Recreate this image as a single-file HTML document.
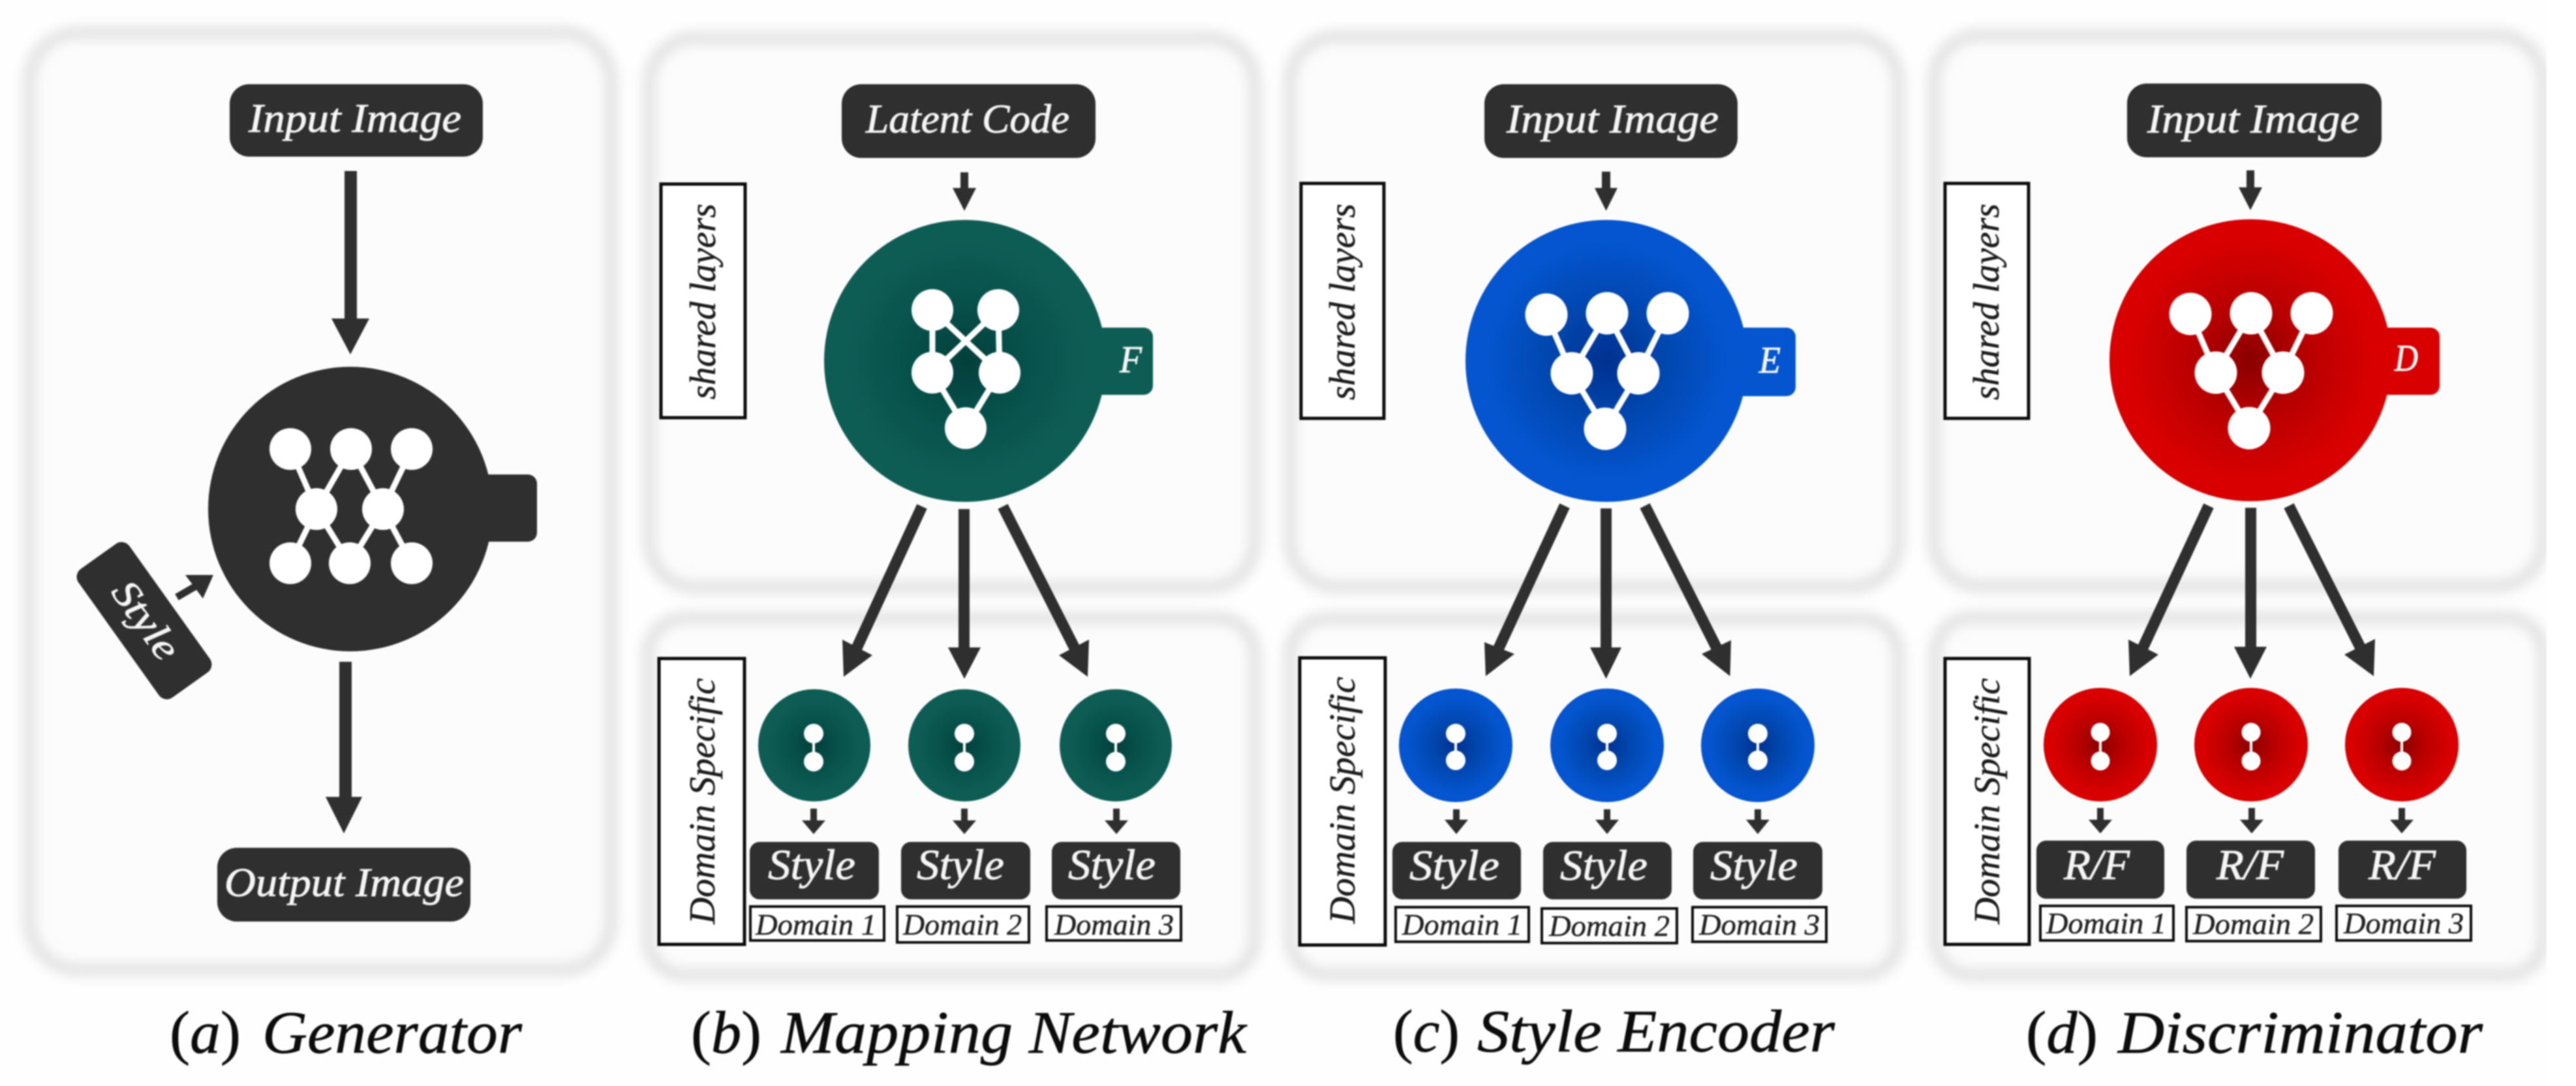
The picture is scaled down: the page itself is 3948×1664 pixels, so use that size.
<!DOCTYPE html>
<html><head><meta charset="utf-8"><style>
html,body{margin:0;padding:0;background:#fefefe;width:3948px;height:1664px;overflow:hidden}
svg{display:block;filter:blur(1.1px)}
text{font-family:"Liberation Serif",serif;font-style:italic}
.w{fill:#f5f5f5;stroke:#f5f5f5;stroke-width:.9}
.b{font-size:62px}.s{font-size:66px}.d{font-size:46px;fill:#222;stroke:#222;stroke-width:.5}.l{font-size:56px;fill:#1c1c1c;stroke:#1c1c1c;stroke-width:.5}.c{font-size:92px;fill:#0c0c0c;stroke:#0c0c0c;stroke-width:.7}
.n{font-style:normal}
.p{fill:#fcfcfc;stroke:#d4d4d4;stroke-width:13;filter:url(#pb)}
.k{fill:#2e2f2e}
.bx{fill:#fff;stroke:#0c0c0c}
.ln{stroke:#fff;stroke-width:9;fill:none}
.ar{stroke:#2e2f2e;fill:none}
</style></head><body>
<svg width="3948" height="1664" viewBox="0 0 3948 1664" xmlns="http://www.w3.org/2000/svg">
<defs>
<filter id="pb" x="-10%" y="-10%" width="120%" height="120%"><feGaussianBlur stdDeviation="10"/></filter>
<radialGradient id="gg"><stop offset="0" stop-color="#033f3b"/><stop offset=".4" stop-color="#07504a"/><stop offset=".85" stop-color="#0e5d55"/></radialGradient>
<radialGradient id="gb"><stop offset="0" stop-color="#00318f"/><stop offset=".4" stop-color="#0146ae"/><stop offset=".85" stop-color="#0455cf"/></radialGradient>
<radialGradient id="gr"><stop offset="0" stop-color="#8a0000"/><stop offset=".4" stop-color="#b80000"/><stop offset=".85" stop-color="#d80000"/></radialGradient>
</defs>
<rect width="3948" height="1664" fill="#fefefe"/>

<!-- panels -->
<rect class="p" x="45" y="50" width="892" height="1436" rx="75"/>
<rect class="p" x="995" y="58" width="928" height="842" rx="70"/>
<rect class="p" x="993" y="947" width="930" height="547" rx="55"/>
<rect class="p" x="1977" y="56" width="933" height="843" rx="70"/>
<rect class="p" x="1977" y="948" width="933" height="545" rx="55"/>
<rect class="p" x="2964" y="54" width="934" height="844" rx="70"/>
<rect class="p" x="2966" y="946" width="932" height="548" rx="55"/>
<rect x="3903" y="0" width="45" height="1664" fill="#fff"/>

<!-- (a) Generator -->
<rect class="k" x="352" y="129" width="388" height="111" rx="30"/>
<text class="b w" x="381" y="202" textLength="326" lengthAdjust="spacingAndGlyphs">Input Image</text>
<rect class="k" x="528" y="262" width="19" height="228"/>
<polygon class="k" points="508,488 566,488 537,543"/>
<rect class="k" x="700" y="727" width="123" height="103" rx="14"/>
<circle class="k" cx="537" cy="780" r="218"/>
<g class="ln" stroke-width="10">
<path d="M445,688L485,780L445,863M538,688L485,780L536,863M538,688L587,780L536,863M631,688L587,780L631,863"/>
</g>
<g fill="#fff">
<circle cx="445" cy="688" r="32"/><circle cx="538" cy="688" r="32"/><circle cx="631" cy="688" r="32"/>
<circle cx="485" cy="780" r="32"/><circle cx="587" cy="780" r="32"/>
<circle cx="445" cy="863" r="32"/><circle cx="536" cy="863" r="32"/><circle cx="631" cy="863" r="32"/>
</g>
<g transform="translate(221,951) rotate(54.5)">
<rect class="k" x="-121" y="-48" width="242" height="96" rx="15"/>
<text class="w" x="-66" y="17" font-size="60" textLength="134" lengthAdjust="spacingAndGlyphs">Style</text>
</g>
<line class="ar" x1="271" y1="915" x2="302" y2="897" stroke-width="11"/>
<polygon class="k" points="327,881 284,881 311,917"/>
<rect class="k" x="520" y="1014" width="19" height="210"/>
<polygon class="k" points="499,1221 555,1221 527,1277"/>
<rect class="k" x="333" y="1299" width="388" height="113" rx="30"/>
<text class="b w" x="344" y="1373" textLength="367" lengthAdjust="spacingAndGlyphs">Output Image</text>
<text class="c" x="260" y="1613" textLength="109" lengthAdjust="spacingAndGlyphs"><tspan class="n">(</tspan>a<tspan class="n">)</tspan></text>
<text class="c" x="402" y="1613" textLength="398" lengthAdjust="spacingAndGlyphs">Generator</text>

<!-- (b) Mapping Network -->
<rect class="k" x="1290" y="129" width="389" height="113" rx="30"/>
<text class="b w" x="1327" y="203" textLength="312" lengthAdjust="spacingAndGlyphs">Latent Code</text>
<rect class="bx" x="1013" y="282" width="129" height="358" stroke-width="5"/>
<text class="l" transform="translate(1096,612) rotate(-90)" textLength="300" lengthAdjust="spacingAndGlyphs">shared layers</text>
<rect class="k" x="1472" y="264" width="12" height="28"/>
<polygon class="k" points="1460,288 1496,288 1478,323"/>
<rect x="1600" y="502" width="167" height="103" rx="14" fill="#0e5d55"/>
<circle cx="1479" cy="553" r="216" fill="url(#gg)"/>
<text class="w" x="1716" y="570" font-size="58" textLength="34" lengthAdjust="spacingAndGlyphs">F</text>
<path class="ln" d="M1429,475L1429,571M1530,475L1532,571M1429,475L1532,571M1530,475L1429,571M1429,571L1480,656M1532,571L1480,656"/>
<g fill="#fff"><circle cx="1429" cy="475" r="32"/><circle cx="1530" cy="475" r="32"/><circle cx="1429" cy="571" r="32"/><circle cx="1532" cy="571" r="32"/><circle cx="1480" cy="656" r="32"/></g>
<line class="ar" x1="1413" y1="776" x2="1312" y2="995" stroke-width="17"/>
<polygon class="k" points="1293,1037 1291,980 1337,1004"/>
<rect class="k" x="1469" y="780" width="17" height="215"/>
<polygon class="k" points="1453,992 1503,992 1478,1040"/>
<line class="ar" x1="1537" y1="776" x2="1648" y2="995" stroke-width="17"/>
<polygon class="k" points="1667,1037 1669,980 1623,1004"/>
<rect class="bx" x="1010" y="1009" width="131" height="438" stroke-width="5"/>
<text class="l" transform="translate(1095,1416) rotate(-90)" textLength="377" lengthAdjust="spacingAndGlyphs">Domain Specific</text>
<g>
<circle cx="1248" cy="1142" r="86" fill="url(#gg)"/><circle cx="1478" cy="1142" r="86" fill="url(#gg)"/><circle cx="1710" cy="1142" r="86" fill="url(#gg)"/>
<path stroke="#fff" stroke-width="4" d="M1247,1124V1167M1478,1124V1167M1710,1124V1167"/>
<g fill="#fff"><circle cx="1247" cy="1124" r="15"/><circle cx="1247" cy="1167" r="15"/><circle cx="1478" cy="1124" r="15"/><circle cx="1478" cy="1167" r="15"/><circle cx="1710" cy="1124" r="15"/><circle cx="1710" cy="1167" r="15"/></g>
<path class="k" d="M1242,1239h10v18h13l-18,21l-18,-21h13zM1473,1239h10v18h13l-18,21l-18,-21h13zM1706,1239h10v18h13l-18,21l-18,-21h13z"/>
<rect class="k" x="1149" y="1290" width="198" height="88" rx="15"/><rect class="k" x="1381" y="1290" width="198" height="88" rx="15"/><rect class="k" x="1612" y="1290" width="197" height="88" rx="15"/>
<text class="s w" x="1177" y="1347" textLength="134" lengthAdjust="spacingAndGlyphs">Style</text>
<text class="s w" x="1405" y="1347" textLength="134" lengthAdjust="spacingAndGlyphs">Style</text>
<text class="s w" x="1637" y="1347" textLength="134" lengthAdjust="spacingAndGlyphs">Style</text>
<rect class="bx" x="1150" y="1389" width="205" height="52" stroke-width="4"/><rect class="bx" x="1375" y="1389" width="202" height="55" stroke-width="4"/><rect class="bx" x="1604" y="1389" width="206" height="52" stroke-width="4"/>
<text class="d" x="1158" y="1432" textLength="185" lengthAdjust="spacingAndGlyphs">Domain 1</text>
<text class="d" x="1384" y="1432" textLength="182" lengthAdjust="spacingAndGlyphs">Domain 2</text>
<text class="d" x="1616" y="1432" textLength="183" lengthAdjust="spacingAndGlyphs">Domain 3</text>
</g>
<text class="c" x="1059" y="1613" textLength="108" lengthAdjust="spacingAndGlyphs"><tspan class="n">(</tspan>b<tspan class="n">)</tspan></text>
<text class="c" x="1197" y="1613" textLength="713" lengthAdjust="spacingAndGlyphs">Mapping Network</text>

<!-- (c) Style Encoder -->
<rect class="k" x="2275" y="129" width="388" height="113" rx="30"/>
<text class="b w" x="2309" y="203" textLength="325" lengthAdjust="spacingAndGlyphs">Input Image</text>
<rect class="bx" x="1994" y="281" width="127" height="360" stroke-width="5"/>
<text class="l" transform="translate(2076,613) rotate(-90)" textLength="301" lengthAdjust="spacingAndGlyphs">shared layers</text>
<rect class="k" x="2455" y="263" width="13" height="28"/>
<polygon class="k" points="2444,288 2479,288 2461.5,323"/>
<rect x="2590" y="502" width="162" height="105" rx="14" fill="#0455cf"/>
<circle cx="2462" cy="553" r="216" fill="url(#gb)"/>
<text class="w" x="2696" y="571" font-size="58" textLength="33" lengthAdjust="spacingAndGlyphs">E</text>
<path class="ln" d="M2370,482L2409,572M2463,480L2409,572M2463,480L2511,572M2556,480L2511,572M2409,572L2460,657M2511,572L2460,657"/>
<g fill="#fff"><circle cx="2370" cy="482" r="32.5"/><circle cx="2463" cy="480" r="32.5"/><circle cx="2556" cy="480" r="32.5"/><circle cx="2409" cy="572" r="32.5"/><circle cx="2511" cy="572" r="32.5"/><circle cx="2460" cy="657" r="32.5"/></g>
<line class="ar" x1="2398" y1="775" x2="2296" y2="995" stroke-width="17"/>
<polygon class="k" points="2277,1036 2275,984 2321,1002"/>
<rect class="k" x="2453" y="779" width="17" height="216"/>
<polygon class="k" points="2437,992 2485,992 2461.5,1040"/>
<line class="ar" x1="2521" y1="775" x2="2632" y2="995" stroke-width="17"/>
<polygon class="k" points="2651.5,1036 2653,981 2608,1002"/>
<rect class="bx" x="1992" y="1008" width="131" height="440" stroke-width="5"/>
<text class="l" transform="translate(2076,1415) rotate(-90)" textLength="378" lengthAdjust="spacingAndGlyphs">Domain Specific</text>
<g>
<circle cx="2231" cy="1142" r="87" fill="url(#gb)"/><circle cx="2463" cy="1142" r="87" fill="url(#gb)"/><circle cx="2694" cy="1142" r="87" fill="url(#gb)"/>
<path stroke="#fff" stroke-width="4" d="M2231,1124V1165M2463,1124V1165M2694,1124V1165"/>
<g fill="#fff"><circle cx="2231" cy="1124" r="15"/><circle cx="2231" cy="1165" r="15"/><circle cx="2463" cy="1124" r="15"/><circle cx="2463" cy="1165" r="15"/><circle cx="2694" cy="1124" r="15"/><circle cx="2694" cy="1165" r="15"/></g>
<path class="k" d="M2227,1240h10v16h13l-18,22l-18,-22h13zM2458,1240h10v16h13l-18,22l-18,-22h13zM2689,1240h10v16h13l-18,22l-18,-22h13z"/>
<rect class="k" x="2134" y="1290" width="197" height="88" rx="15"/><rect class="k" x="2365" y="1290" width="197" height="88" rx="15"/><rect class="k" x="2595" y="1290" width="198" height="88" rx="15"/>
<text class="s w" x="2160" y="1348" textLength="138" lengthAdjust="spacingAndGlyphs">Style</text>
<text class="s w" x="2391" y="1348" textLength="134" lengthAdjust="spacingAndGlyphs">Style</text>
<text class="s w" x="2621" y="1348" textLength="134" lengthAdjust="spacingAndGlyphs">Style</text>
<rect class="bx" x="2139" y="1390" width="204" height="53" stroke-width="4"/><rect class="bx" x="2363" y="1392" width="207" height="53" stroke-width="4"/><rect class="bx" x="2594" y="1390" width="205" height="53" stroke-width="4"/>
<text class="d" x="2149" y="1432" textLength="184" lengthAdjust="spacingAndGlyphs">Domain 1</text>
<text class="d" x="2374" y="1434" textLength="185" lengthAdjust="spacingAndGlyphs">Domain 2</text>
<text class="d" x="2604" y="1432" textLength="185" lengthAdjust="spacingAndGlyphs">Domain 3</text>
</g>
<text class="c" x="2135" y="1611" textLength="102" lengthAdjust="spacingAndGlyphs"><tspan class="n">(</tspan>c<tspan class="n">)</tspan></text>
<text class="c" x="2264" y="1611" textLength="548" lengthAdjust="spacingAndGlyphs">Style Encoder</text>

<!-- (d) Discriminator -->
<rect class="k" x="3260" y="128" width="390" height="113" rx="30"/>
<text class="b w" x="3291" y="203" textLength="325" lengthAdjust="spacingAndGlyphs">Input Image</text>
<rect class="bx" x="2981" y="281" width="128" height="360" stroke-width="5"/>
<text class="l" transform="translate(3063,613) rotate(-90)" textLength="301" lengthAdjust="spacingAndGlyphs">shared layers</text>
<rect class="k" x="3443" y="261" width="12" height="28"/>
<polygon class="k" points="3431,287 3467,287 3449,322"/>
<rect x="3580" y="502" width="159" height="103" rx="14" fill="#d80000"/>
<circle cx="3449" cy="552" r="216" fill="url(#gr)"/>
<text class="w" x="3670" y="568" font-size="58" textLength="36" lengthAdjust="spacingAndGlyphs">D</text>
<path class="ln" d="M3357,481L3396,571M3450,480L3396,571M3450,480L3499,571M3543,480L3499,571M3396,571L3447,656M3499,571L3447,656"/>
<g fill="#fff"><circle cx="3357" cy="481" r="32.5"/><circle cx="3450" cy="480" r="32.5"/><circle cx="3543" cy="480" r="32.5"/><circle cx="3396" cy="571" r="32.5"/><circle cx="3499" cy="571" r="32.5"/><circle cx="3447" cy="656" r="32.5"/></g>
<line class="ar" x1="3385" y1="775" x2="3283" y2="995" stroke-width="17"/>
<polygon class="k" points="3264,1036 3262,980 3308,1003"/>
<rect class="k" x="3441" y="778" width="17" height="216"/>
<polygon class="k" points="3424,991 3474,991 3449,1040"/>
<line class="ar" x1="3508" y1="775" x2="3619" y2="995" stroke-width="17"/>
<polygon class="k" points="3638,1036 3640,979 3593,1003"/>
<rect class="bx" x="2981" y="1009" width="129" height="438" stroke-width="5"/>
<text class="l" transform="translate(3064,1416) rotate(-90)" textLength="377" lengthAdjust="spacingAndGlyphs">Domain Specific</text>
<g>
<circle cx="3219" cy="1141" r="87" fill="url(#gr)"/><circle cx="3450" cy="1141" r="87" fill="url(#gr)"/><circle cx="3681" cy="1141" r="87" fill="url(#gr)"/>
<path stroke="#fff" stroke-width="4" d="M3219,1122V1166M3450,1122V1166M3681,1122V1166"/>
<g fill="#fff"><circle cx="3219" cy="1122" r="14.5"/><circle cx="3219" cy="1166" r="14.5"/><circle cx="3450" cy="1122" r="14.5"/><circle cx="3450" cy="1166" r="14.5"/><circle cx="3681" cy="1122" r="14.5"/><circle cx="3681" cy="1166" r="14.5"/></g>
<path class="k" d="M3214,1238h10v18h13l-18,21l-18,-21h13zM3446,1238h10v18h13l-18,21l-18,-21h13zM3676,1238h10v18h13l-18,21l-18,-21h13z"/>
<rect class="k" x="3121" y="1288" width="196" height="89" rx="15"/><rect class="k" x="3351" y="1288" width="197" height="89" rx="15"/><rect class="k" x="3584" y="1288" width="196" height="89" rx="15"/>
<text class="s w" x="3163" y="1347" textLength="101" lengthAdjust="spacingAndGlyphs">R/F</text>
<text class="s w" x="3397" y="1347" textLength="103" lengthAdjust="spacingAndGlyphs">R/F</text>
<text class="s w" x="3630" y="1347" textLength="103" lengthAdjust="spacingAndGlyphs">R/F</text>
<rect class="bx" x="3127" y="1388" width="204" height="53" stroke-width="4"/><rect class="bx" x="3351" y="1390" width="206" height="52" stroke-width="4"/><rect class="bx" x="3581" y="1388" width="206" height="53" stroke-width="4"/>
<text class="d" x="3136" y="1430" textLength="184" lengthAdjust="spacingAndGlyphs">Domain 1</text>
<text class="d" x="3361" y="1431" textLength="185" lengthAdjust="spacingAndGlyphs">Domain 2</text>
<text class="d" x="3592" y="1430" textLength="184" lengthAdjust="spacingAndGlyphs">Domain 3</text>
</g>
<text class="c" x="3105" y="1613" textLength="110" lengthAdjust="spacingAndGlyphs"><tspan class="n">(</tspan>d<tspan class="n">)</tspan></text>
<text class="c" x="3246" y="1613" textLength="559" lengthAdjust="spacingAndGlyphs">Discriminator</text>
</svg>
</body></html>
